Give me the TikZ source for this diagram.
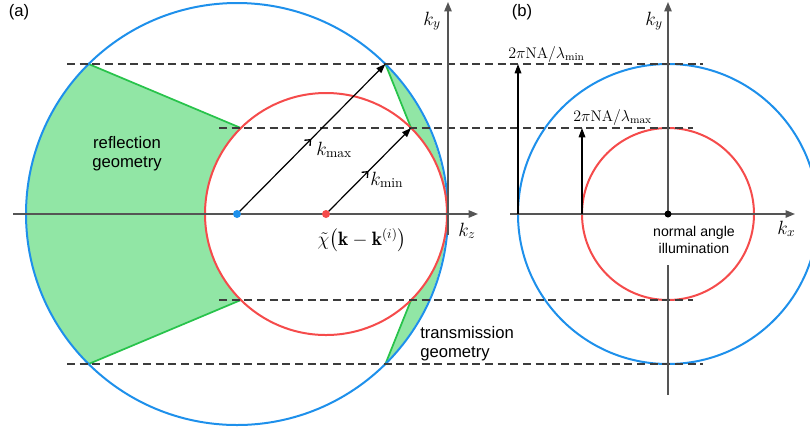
\documentclass[tikz,border=0pt]{standalone}
\usepackage{fontspec}
\usepackage{amsmath}
\newfontfamily\arialf{Liberation Sans}
\usetikzlibrary{arrows.meta,decorations.markings}
\definecolor{cblue}{RGB}{30,144,235}
\definecolor{cred}{RGB}{245,75,75}
\definecolor{gfill}{RGB}{145,230,165}
\definecolor{gline}{RGB}{40,195,75}
\definecolor{axisc}{RGB}{85,85,85}
\definecolor{dashc}{RGB}{60,60,60}
\begin{document}
\begin{tikzpicture}[x=0.75pt,y=-0.75pt,
  bcirc/.style={draw=cblue,line width=1.5pt},
  rcirc/.style={draw=cred,line width=1.5pt},
  axisline/.style={draw=axisc,line width=1.1pt},
  axarrow/.style={axisline,-{Triangle[length=7pt,width=5.5pt]}},
  guide/.style={draw=dashc,line width=0.8pt,dash pattern=on 6pt off 3.5pt},
  kvec/.style={draw=black,line width=0.9pt,-{Triangle[length=7pt,width=5pt]},
    postaction={decorate},
    decoration={markings,mark=at position 0.5 with {\arrow{Straight Barb[length=3.5pt,width=6pt,line width=1pt]}}}},
  hvec/.style={draw=black,line width=0.9pt,-{Triangle[length=7pt,width=5pt]}},
  gregion/.style={fill=gfill},
  gedge/.style={draw=gline,line width=1.3pt},
  lbl/.style={font=\arialf\fontsize{12.5}{14}\selectfont,inner sep=0pt},
  smalllbl/.style={font=\arialf\fontsize{10.6}{12.5}\selectfont,inner sep=0pt,align=center},
  mlbl/.style={font=\fontsize{14.5}{16}\selectfont,inner sep=0pt},
  nalbl/.style={font=\fontsize{11.5}{13}\selectfont,inner sep=0pt}
]
\clip (0,0) rectangle (810,430);

% key points
\coordinate (B) at (237,214);
\coordinate (C) at (326,214);
\coordinate (O) at (668,214);
\coordinate (BT) at (385.4,64);
\coordinate (BL1) at (88.6,64);
\coordinate (BL2) at (88.6,364);
\coordinate (BB) at (385.4,364);
\coordinate (RT) at (411.1,128);
\coordinate (RL1) at (240.9,128);
\coordinate (RL2) at (240.9,300);
\coordinate (RB) at (411.1,300);

% green regions
\fill[gregion] (BL1) arc[start angle=225.3,end angle=134.7,radius=211] -- (RL2)
  arc[start angle=134.7,end angle=225.3,radius=121] -- cycle;
\fill[gregion] (BT) -- (RT) arc[start angle=-45.3,end angle=0,radius=121]
  arc[start angle=0,end angle=-45.3,radius=211] -- cycle;
\fill[gregion] (BB) -- (RB) arc[start angle=45.3,end angle=0,radius=121]
  arc[start angle=0,end angle=45.3,radius=211] -- cycle;
\draw[gedge] (BL1) -- (RL1);
\draw[gedge] (BL2) -- (RL2);
\draw[gedge] (BT) -- (RT);
\draw[gedge] (BB) -- (RB);

% circles
\draw[bcirc] (B) circle[radius=211];
\draw[rcirc] (C) circle[radius=121];
\draw[bcirc] (O) circle[radius=150];
\draw[rcirc] (O) circle[radius=86];

% guides
\draw[guide] (67,64) -- (703,64);
\draw[guide] (219,128) -- (693,128);
\draw[guide] (219,300) -- (693,300);
\draw[guide] (67,364) -- (703,364);

% axes
\draw[axarrow] (13,214) -- (478,214);
\draw[axarrow] (448,235) -- (448,2);
\draw[axarrow] (510,214) -- (795,214);
\draw[axarrow] (668,214) -- (668,2);
\draw[axisline] (668,265) -- (668,395);

% vectors
\draw[kvec] (B) -- (BT);
\draw[kvec] (C) -- (RT);
\coordinate (P1) at (518,214);
\coordinate (P1t) at (518,64);
\coordinate (P2) at (582,214);
\coordinate (P2t) at (582,128);
\draw[hvec] (P1) -- (P1t);
\draw[hvec] (P2) -- (P2t);

% dots
\fill[cblue] (B) circle[radius=4];
\fill[cred] (C) circle[radius=4];
\fill[black] (O) circle[radius=3.5];

% labels
\node[lbl] (la) at (19,12) {(a)};
\node[lbl] (lb) at (522,12) {(b)};
\node[lbl,align=center] (refl) at (127,154) {reflection\\geometry};
\node[lbl,align=left,anchor=west] (trans) at (420,344) {transmission\\geometry};
\node[smalllbl] (norm) at (694,240) {normal angle\\illumination};
\node[mlbl,anchor=base west] (kmax) at (316,155) {$k_{\mathrm{max}}$};
\node[mlbl,anchor=base west] (kmin) at (370,185) {$k_{\mathrm{min}}$};
\node[mlbl] (chi) at (362,240) {$\tilde{\chi}\!\left(\mathbf{k}-\mathbf{k}^{(i)}\right)$};
\node[mlbl,anchor=base west] (kz) at (458,236) {$k_z$};
\node[mlbl,anchor=base west] (kya) at (423,25) {$k_y$};
\node[mlbl,anchor=base west] (kyb) at (645,25) {$k_y$};
\node[mlbl,anchor=base west] (kx) at (777,234) {$k_x$};
\node[nalbl,anchor=base west] (namin) at (508,58) {$2\pi\mathrm{NA}/\lambda_{\mathrm{min}}$};
\node[nalbl,anchor=base west] (namax) at (573,121) {$2\pi\mathrm{NA}/\lambda_{\mathrm{max}}$};
\end{tikzpicture}
\end{document}
